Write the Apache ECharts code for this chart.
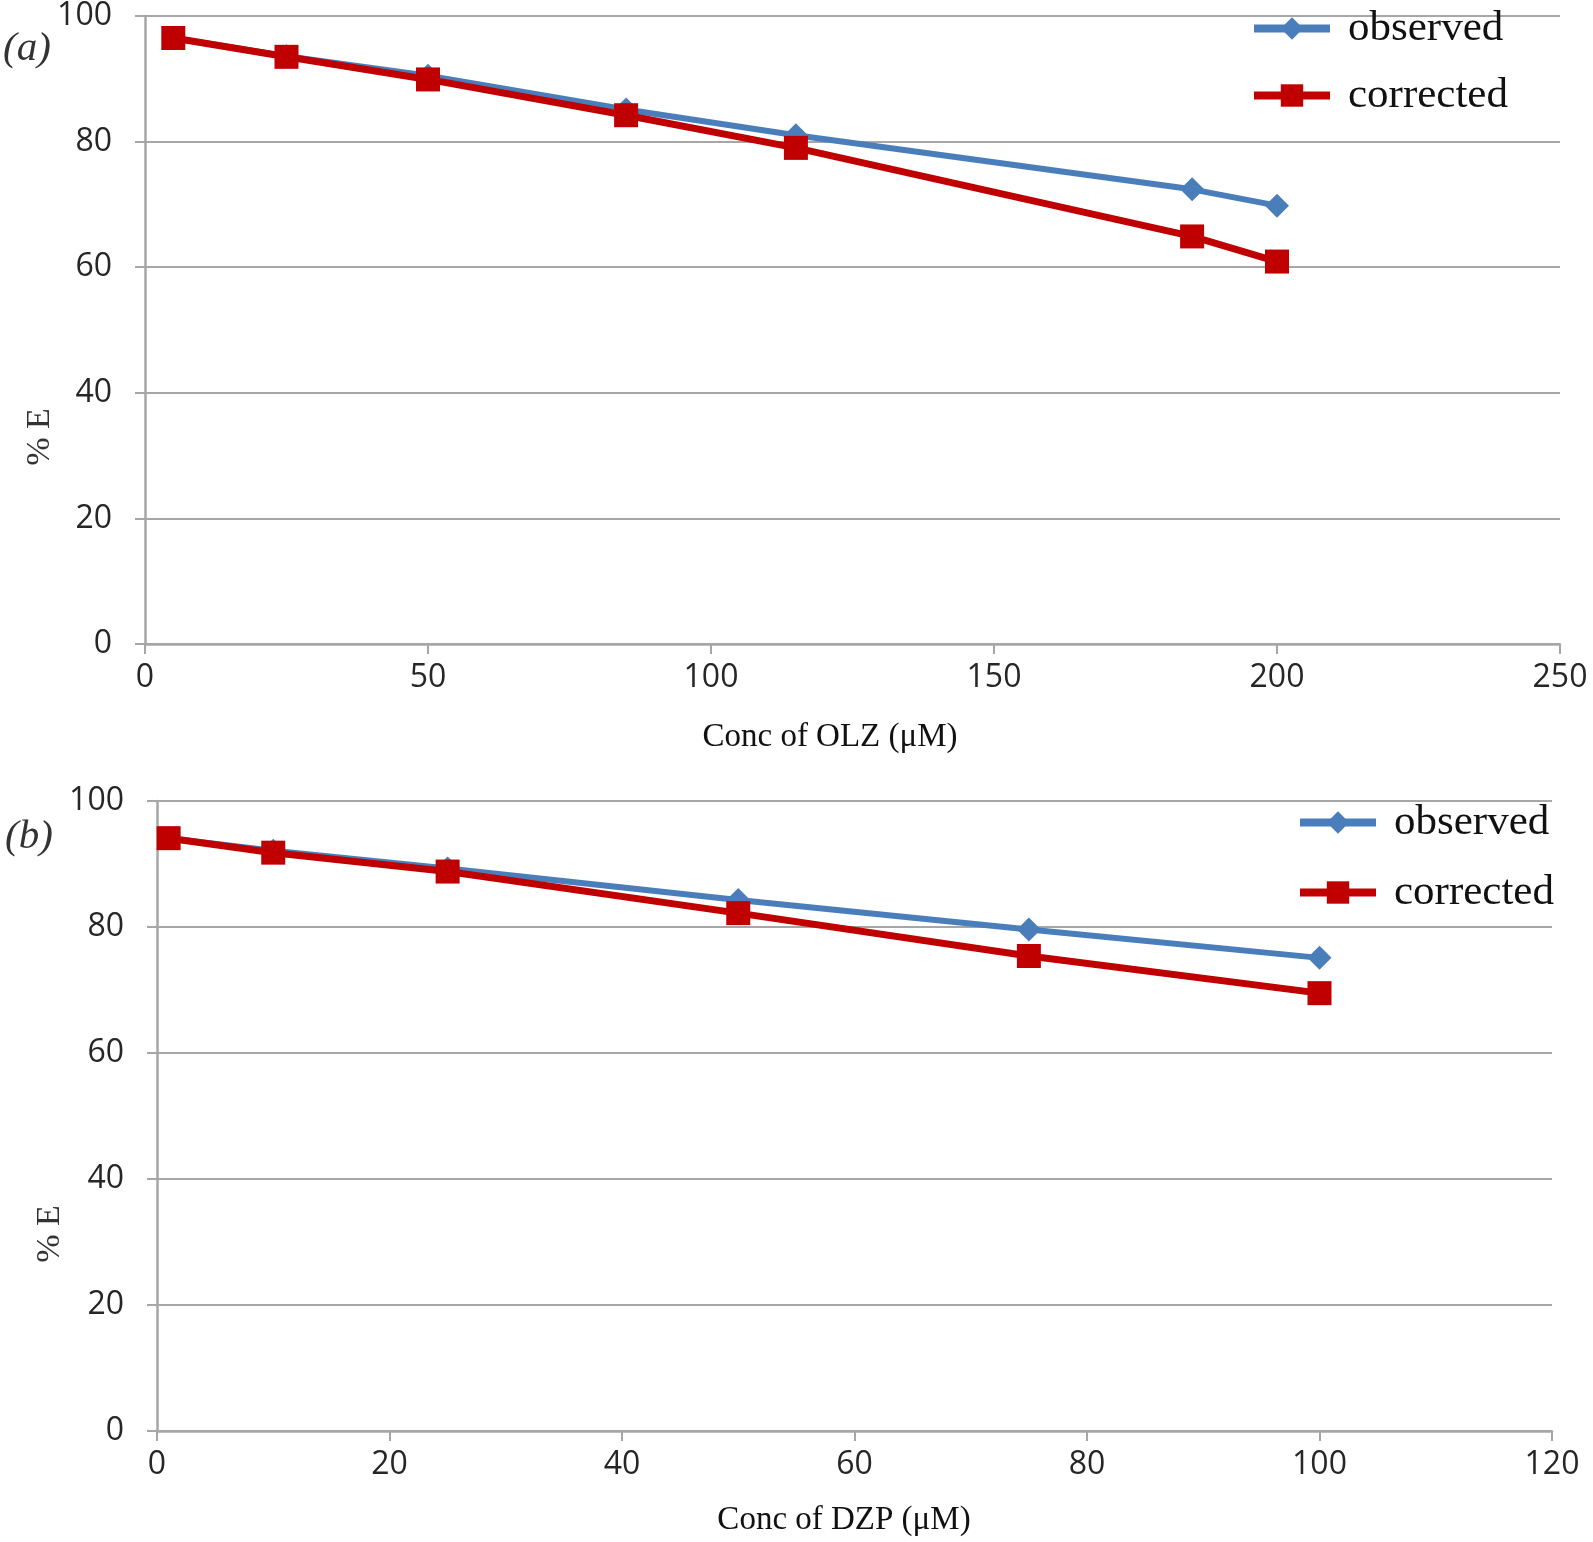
<!DOCTYPE html>
<html style="height: 100%">
<head>
	<meta charset="utf-8">
	<title>%E vs concentration</title>
	<script src="https://cdn.jsdelivr.net/npm/echarts@6/dist/echarts.min.js"></script>
</head>
<body style="height: 100%; margin: 0; background: #fff">

	<div id="main" style="width: 1593px; height: 1542px"></div>

	<script type="text/javascript">

		// (a) olanzapine
		var olzConc = [5, 25, 50, 85, 115, 185, 200];
		var olzObserved = [96.5, 93.6, 90.5, 85.1, 81.0, 72.4, 69.8];
		var olzCorrected = [96.5, 93.5, 89.9, 84.2, 79.0, 64.9, 60.9];

		// (b) diazepam
		var dzpConc = [1, 10, 25, 50, 75, 100];
		var dzpObserved = [94.1, 92.1, 89.3, 84.3, 79.6, 75.1];
		var dzpCorrected = [94.1, 91.8, 88.8, 82.2, 75.4, 69.5];

		var seriesNames = ['observed', 'corrected'];
		var panelLabels = ['(a)', '(b)'];
		var xNames = ['Conc of OLZ (\u03bcM)', 'Conc of DZP (\u03bcM)'];
		var yName = '% E';

		var blue = '#4a7ebb';
		var red = '#c00000';
		var gray = '#a6a6a6';
		var serif = '"Liberation Serif", "Times New Roman", serif';
		var sans = '"Open Sans", "Noto Sans", sans-serif';

		var pairs = function(xs, ys) {
			var out = [];
			for (var i = 0; i < xs.length; i++) out.push([xs[i], ys[i]]);
			return out;
		};

		var xAxisBase = function(idx, max, interval, name, gap, shift) {
			return {
				gridIndex: idx, type: 'value', min: 0, max: max, interval: interval,
				name: name, nameLocation: 'middle', nameGap: gap,
				nameTextStyle: { fontFamily: serif, fontSize: 33, color: '#111', padding: [0, shift, 0, 0] },
				axisLine: { show: true, lineStyle: { color: gray, width: 2.5 } },
				axisTick: { show: true, length: 10, lineStyle: { color: gray, width: 2 } },
				axisLabel: { margin: 18, fontFamily: sans, fontSize: 32, color: '#262626' },
				splitLine: { show: false }
			};
		};

		var yAxisBase = function(idx) {
			return {
				gridIndex: idx, type: 'value', min: 0, max: 100, interval: 20,
				axisLine: { show: true, lineStyle: { color: gray, width: 2.5 } },
				axisTick: { show: true, length: 10, lineStyle: { color: gray, width: 2 } },
				axisLabel: { margin: 33, fontFamily: sans, fontSize: 32, color: '#262626' },
				splitLine: { show: true, lineStyle: { color: gray, width: 2 } }
			};
		};

		var lineSeries = function(name, idx, data, color, symbol, width) {
			return {
				name: name, type: 'line', xAxisIndex: idx, yAxisIndex: idx,
				data: data, symbol: symbol, symbolSize: 24,
				lineStyle: { color: color, width: width },
				itemStyle: { color: color }
			};
		};

		var legendBase = function(left, top, gap) {
			return {
				data: seriesNames, orient: 'vertical', left: left, top: top,
				itemWidth: 76, itemHeight: 28, itemGap: gap, padding: 0,
				selectedMode: false,
				lineStyle: { width: 8 },
				textStyle: { fontFamily: serif, fontSize: 43, color: '#111', padding: [0, 0, 0, 13] }
			};
		};

		var label = function(x, y, text, font, rot) {
			return {
				type: 'text', x: x, y: y, rotation: rot || 0,
				style: { text: text, font: font, fill: '#333', align: 'center', verticalAlign: 'middle' }
			};
		};

		var myChart = echarts.init(document.getElementById('main'));

		var option = {
			animation: false,
			backgroundColor: '#fff',
			grid: [
				{ left: 145, right: 33, top: 12, height: 632 },
				{ left: 157, right: 41, top: 801, height: 630 }
			],
			xAxis: [
				xAxisBase(0, 250, 50, xNames[0], 77, 45),
				xAxisBase(1, 120, 20, xNames[1], 73, 21)
			],
			yAxis: [yAxisBase(0), yAxisBase(1)],
			legend: [
				legendBase(1250, 7, 24),
				legendBase(1296, 801, 27)
			],
			series: [
				lineSeries(seriesNames[0], 0, pairs(olzConc, olzObserved), blue, 'diamond', 6),
				lineSeries(seriesNames[1], 0, pairs(olzConc, olzCorrected), red, 'rect', 7),
				lineSeries(seriesNames[0], 1, pairs(dzpConc, dzpObserved), blue, 'diamond', 6),
				lineSeries(seriesNames[1], 1, pairs(dzpConc, dzpCorrected), red, 'rect', 7)
			],
			graphic: [
				label(27, 49, panelLabels[0], 'italic 41px ' + serif),
				label(29, 837, panelLabels[1], 'italic 41px ' + serif),
				label(40, 437, yName, '34px ' + serif, Math.PI / 2),
				label(50, 1234, yName, '34px ' + serif, Math.PI / 2)
			]
		};

		myChart.setOption(option);

	</script>

</body>
</html>
